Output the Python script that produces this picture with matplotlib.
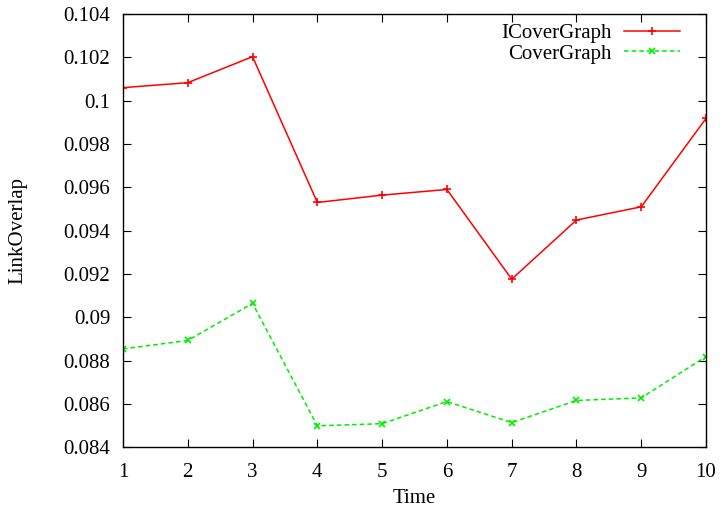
import matplotlib
matplotlib.use("Agg")
import matplotlib.pyplot as plt
from matplotlib.ticker import FuncFormatter

time = [1, 2, 3, 4, 5, 6, 7, 8, 9, 10]
icover = [0.1006, 0.10083, 0.10203, 0.0953, 0.09564, 0.0959, 0.09176, 0.09449, 0.0951, 0.09918]
cover = [0.08854, 0.08893, 0.09064, 0.08499, 0.08509, 0.08611, 0.08514, 0.08616, 0.08628, 0.08819]
yticks = [0.084, 0.086, 0.088, 0.09, 0.092, 0.094, 0.096, 0.098, 0.1, 0.102, 0.104]

plt.rcParams['font.family'] = ['Liberation Serif', 'DejaVu Serif']
plt.rcParams['font.size'] = 15

fig = plt.figure(figsize=(7.2, 5.11), dpi=100)
ax = fig.add_axes([0.1708, 0.1247, 0.8098, 0.8479])

ax.plot(time, icover, color='#ff0000', linestyle='-', linewidth=1.1,
        marker='+', markersize=6, markeredgewidth=1.2, label='ICoverGraph')
ax.plot(time, cover, color='#00ee00', linestyle=(0, (3, 2)), linewidth=1.1,
        marker='x', markersize=5, markeredgewidth=1.2, label='CoverGraph')

ax.set_xlim(1, 10)
ax.set_ylim(0.084, 0.104)
ax.set_xticks(time)
ax.set_yticks(yticks)
ax.yaxis.set_major_formatter(FuncFormatter(lambda v, p: '%g' % round(v, 6)))
ax.tick_params(direction='in', top=True, right=True, length=6, width=0.8,
               labelsize=15)
ax.tick_params(axis='x', pad=11)
ax.tick_params(axis='y', pad=9)
for s in ax.spines.values():
    s.set_linewidth(1.0)

ax.set_xlabel('Time', fontsize=15, labelpad=5)
ax.set_ylabel('LinkOverlap', fontsize=15, labelpad=26)

ax.legend(loc='upper right', frameon=False, markerfirst=False, fontsize=15,
          handlelength=2.7, handletextpad=0.6, labelspacing=0.05,
          borderaxespad=0.3, bbox_to_anchor=(0.981, 1.012))

fig.savefig('out.png', dpi=100)
